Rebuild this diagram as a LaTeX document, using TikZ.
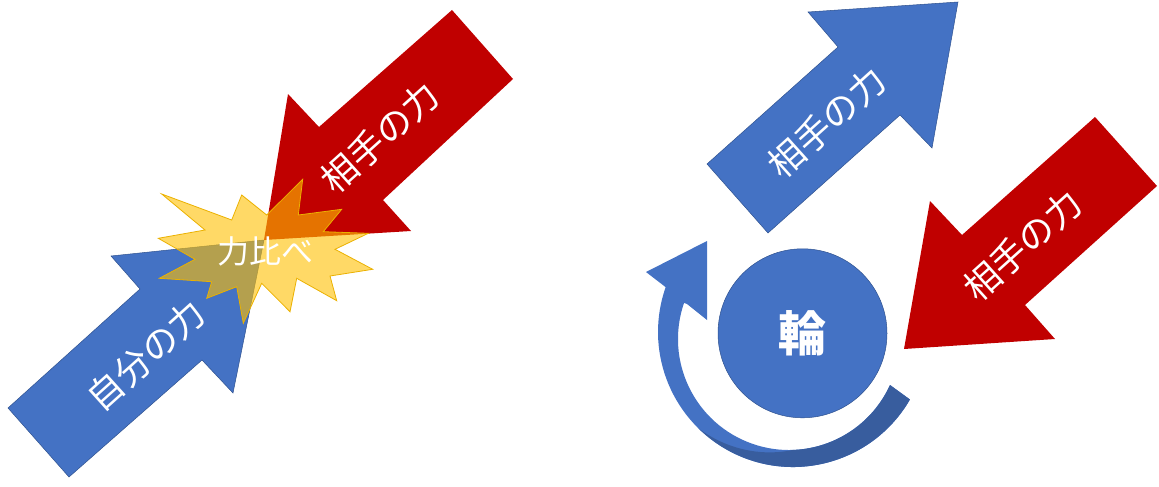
\documentclass[tikz,border=0pt]{standalone}
\usepackage{fontspec}
\newfontfamily\jp{Noto Sans CJK JP}
\definecolor{cblue}{HTML}{4472C4}
\definecolor{cblueline}{HTML}{2F528F}
\definecolor{cred}{HTML}{C00000}
\definecolor{cstar}{HTML}{FFC000}
\definecolor{cdark}{HTML}{385D9E}
\begin{document}
\begin{tikzpicture}[x=1pt,y=-1pt,
  bluearrow/.style={fill=cblue, draw=cblueline, line width=0.5pt},
  redarrow/.style={fill=cred},
  lbl/.style={text=white, inner sep=0pt, font=\jp\fontsize{36}{36}\selectfont},
  starshape/.style={fill=cstar, fill opacity=0.6, draw=cstar!92!black, line width=0.8pt}]
\useasboundingbox (0,0) rectangle (1159,487);
% left blue arrow
\path[bluearrow] (8,408) -- (140,289) -- (111,256) -- (264,240) -- (233,393) -- (202,360) -- (69,477) -- cycle;
% left red arrow
\path[redarrow] (452,10) -- (513,79) -- (383,200) -- (411,231) -- (264,240) -- (288,94) -- (319,127) -- cycle;
% explosion
\path[starshape] (161.7,194) -- (231.7,220) -- (241.7,195) -- (266.7,215) -- (302.7,179.3) -- (298.3,215) -- (341.7,209.3) -- (323.3,231.7) -- (368.3,233.3) -- (335,249.3) -- (372.7,269.3) -- (330,276) -- (336.7,300.7) -- (296.7,278.3) -- (290,311.7) -- (261.7,283.3) -- (243.3,323.3) -- (236.7,286.7) -- (206.7,298.3) -- (211.7,281.7) -- (159.3,278.3) -- (195,259.3) -- (158.3,238.3) -- (205,230) -- cycle;
\node[lbl, rotate=42] (own) at (146,355) {自分の力};
\node[lbl, rotate=42] (opp1) at (380,137) {相手の力};
\node[lbl, font=\jp\fontsize{32}{32}\selectfont] (cmp) at (265,251) {力比べ};
% right blue arrow
\path[bluearrow] (707,164) -- (838,47) -- (808,12) -- (958,2) -- (932,148) -- (900,115) -- (768,233) -- cycle;
% right red arrow
\path[redarrow] (1095,117) -- (1157,186) -- (1025,305) -- (1055,339) -- (904,349) -- (930,201) -- (962,235) -- cycle;
\node[lbl, rotate=42] (opp2) at (826.7,122.5) {相手の力};
\node[lbl, rotate=42] (opp3) at (1022.5,245) {相手の力};
% curved arrow
\begin{scope}[shift={(793,332)}]
\path[fill=cblue] (30:135) arc[start angle=30, end angle=199.4, radius=135]
  -- (-147,-60) -- (-86,-91) -- (-86,-12) -- (-106,-28)
  -- ([shift={(-4,7)}]199:111) arc[start angle=199, end angle=24.5, radius=111] -- cycle;
\begin{scope}
\clip (30:135) arc[start angle=30, end angle=199.4, radius=135]
  -- ([shift={(-4,7)}]199:111) arc[start angle=199, end angle=24.5, radius=111] -- cycle;
\fill[cdark, shift={(-4,7)}] plot[domain=15:165, samples=60] (\x:{110+24*max(0,min(1,(\x-85)/70))})
  -- (165:220) arc[start angle=165, end angle=15, radius=220] -- cycle;
\end{scope}
\end{scope}
% wheel
\node[circle, fill=cblue, draw=cblueline, line width=0.5pt, minimum size=169pt, inner sep=0pt,
  text=white, font=\jp\bfseries\fontsize{48}{48}\selectfont] (wheel) at (802.5,333.3) {輪};
\end{tikzpicture}
\end{document}
